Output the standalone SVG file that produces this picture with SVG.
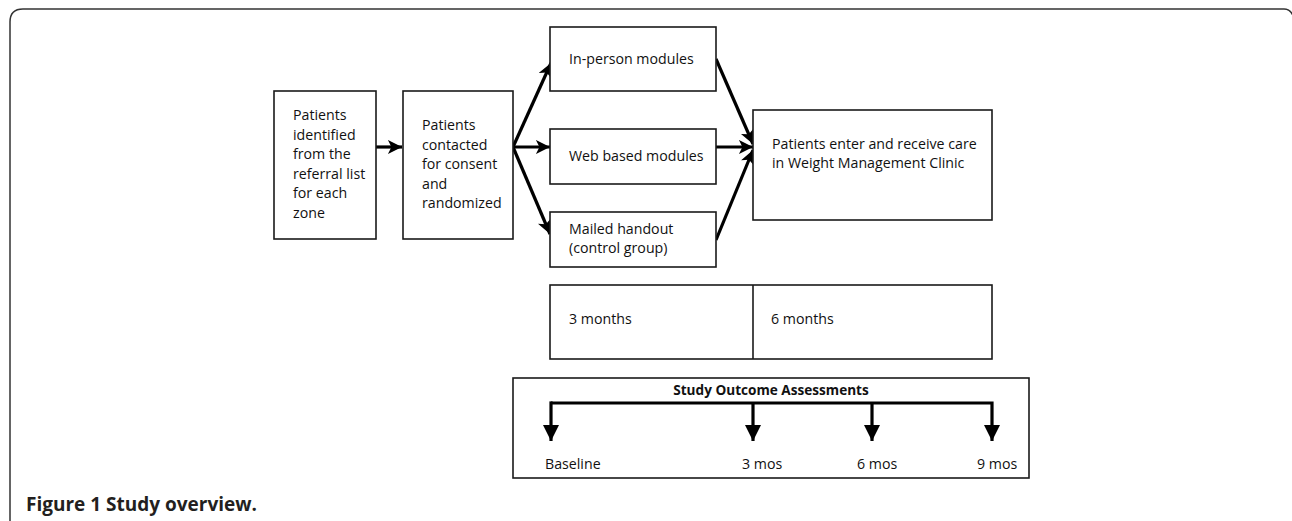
<svg xmlns="http://www.w3.org/2000/svg" width="1292" height="521" viewBox="0 0 1292 521">
<style>
.box{fill:#fff;stroke:#1a1a1a;stroke-width:1.6}
.t{font-family:"Open Sans","Noto Sans",sans-serif;font-size:14.2px;fill:#111}
.tb{font-family:"Open Sans","Noto Sans",sans-serif;font-size:13.6px;font-weight:bold;fill:#111}
.ln{stroke:#000;stroke-width:3.2;fill:none}
.cap{font-family:"Open Sans","Noto Sans",sans-serif;font-size:19px;font-weight:bold;fill:#231f20}
</style>
<defs>
<marker id="ah" viewBox="0 0 10 10" refX="10" refY="5" markerWidth="5.2" markerHeight="4.4" markerUnits="strokeWidth" orient="auto">
<path d="M0,0 L10,5 L0,10 L2.5,5 z" fill="#000"/>
</marker>
<marker id="dn" viewBox="0 0 10 10" refX="10" refY="5" markerWidth="5.2" markerHeight="5" markerUnits="strokeWidth" orient="auto">
<path d="M0,0 L10,5 L0,10 z" fill="#000"/>
</marker>
</defs>
<rect width="1292" height="521" fill="#fff"/>
<path d="M10,521 V22 Q10,9 23,9 H1284 Q1291,9 1294,18" fill="none" stroke="#333" stroke-width="1.5"/>

<g id="connectors">
<line class="ln" x1="376" y1="147" x2="402" y2="147" marker-end="url(#ah)"/>
<line class="ln" x1="513" y1="147" x2="551" y2="63" marker-end="url(#ah)"/>
<line class="ln" x1="513" y1="147" x2="550" y2="147" marker-end="url(#ah)"/>
<line class="ln" x1="513" y1="147" x2="550" y2="234" marker-end="url(#ah)"/>
<line class="ln" x1="716" y1="59" x2="753" y2="144" marker-end="url(#ah)"/>
<line class="ln" x1="716" y1="147" x2="753" y2="147" marker-end="url(#ah)"/>
<line class="ln" x1="716" y1="240" x2="753" y2="150" marker-end="url(#ah)"/>
</g>

<g id="n1"><rect class="box" x="274" y="91" width="102" height="148"/>
<text class="t" x="293" y="120">Patients</text>
<text class="t" x="293" y="139.5">identified</text>
<text class="t" x="293" y="159">from the</text>
<text class="t" x="293" y="178.5">referral list</text>
<text class="t" x="293" y="198">for each</text>
<text class="t" x="293" y="217.5">zone</text></g>

<g id="n2"><rect class="box" x="403" y="91" width="110" height="148"/>
<text class="t" x="422" y="130">Patients</text>
<text class="t" x="422" y="149.5">contacted</text>
<text class="t" x="422" y="169">for consent</text>
<text class="t" x="422" y="188.5">and</text>
<text class="t" x="422" y="208">randomized</text></g>

<g id="n3"><rect class="box" x="550" y="27" width="166" height="64"/>
<text class="t" x="569" y="64">In-person modules</text></g>

<g id="n4"><rect class="box" x="550" y="129" width="166" height="55"/>
<text class="t" x="569" y="161">Web based modules</text></g>

<g id="n5"><rect class="box" x="550" y="212" width="166" height="55"/>
<text class="t" x="569" y="234">Mailed handout</text>
<text class="t" x="569" y="253">(control group)</text></g>

<g id="n6"><rect class="box" x="753" y="110" width="239" height="110"/>
<text class="t" x="772" y="149">Patients enter and receive care</text>
<text class="t" x="772" y="168">in Weight Management Clinic</text></g>

<g id="n7"><rect class="box" x="550" y="285" width="442" height="74"/>
<line x1="753" y1="285" x2="753" y2="359" stroke="#1a1a1a" stroke-width="1.6"/>
<text class="t" x="569" y="324">3 months</text>
<text class="t" x="771" y="324">6 months</text></g>

<g id="n8"><rect class="box" x="513" y="378" width="516" height="100"/>
<text class="tb" x="771" y="395" text-anchor="middle">Study Outcome Assessments</text>
<path class="ln" d="M551,403 H992 V441" marker-end="url(#dn)"/>
<line class="ln" x1="551" y1="401.4" x2="551" y2="441" marker-end="url(#dn)"/>
<line class="ln" x1="753" y1="403" x2="753" y2="441" marker-end="url(#dn)"/>
<line class="ln" x1="872" y1="403" x2="872" y2="441" marker-end="url(#dn)"/>
<text class="t" x="545" y="469">Baseline</text>
<text class="t" x="742" y="469">3 mos</text>
<text class="t" x="857" y="469">6 mos</text>
<text class="t" x="977" y="469">9 mos</text></g>

<text class="cap" x="26" y="511">Figure 1 Study overview.</text>
</svg>
